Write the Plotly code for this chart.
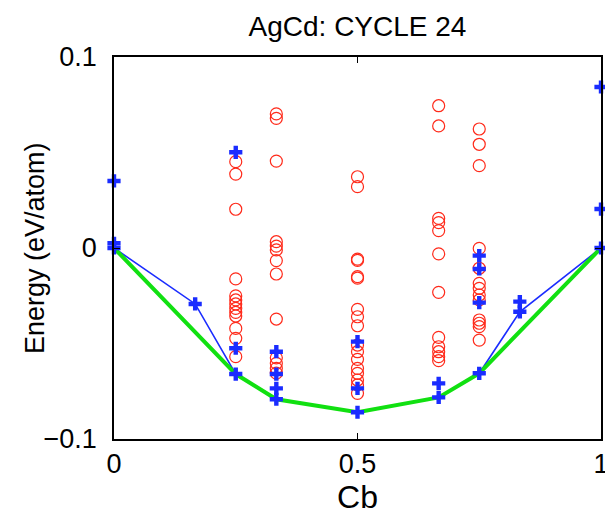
import plotly.graph_objects as go

# ---- data ----
comp_025 = 0.25
comp_033 = 1 / 3
comp_050 = 0.5
comp_067 = 2 / 3
comp_075 = 0.75

red_025 = [0.0452, 0.0387, 0.0203, -0.0162, -0.0251, -0.0272, -0.0293, -0.0316,
           -0.0337, -0.0356, -0.0421, -0.0473, -0.0569]
red_033 = [0.0702, 0.0679, 0.0455, 0.0033, 0.0010, -0.0010, -0.0066, -0.0136,
           -0.0372, -0.0575, -0.0604, -0.0630, -0.0655]
red_050 = [0.0373, 0.0321, -0.0058, -0.0065, -0.0150, -0.0158, -0.0321, -0.0360,
           -0.0407, -0.0508, -0.0543, -0.0583, -0.0630, -0.0656, -0.0691, -0.0717, -0.0761]
red_067 = [0.0745, 0.0639, 0.0155, 0.0133, 0.0091, -0.0031, -0.0232, -0.0468,
           -0.0517, -0.0543, -0.0569, -0.0590]
red_075 = [0.0623, 0.0543, 0.0431, -0.0002, -0.0106, -0.0185, -0.0211, -0.0246,
           -0.0272, -0.0377, -0.0394, -0.0412, -0.0482]

blue_comps = [0.0, 1 / 6, 0.25, 1 / 3, 0.5, 2 / 3, 0.75, 5 / 6, 1.0]
blue_vals = [
    [0.0351, 0.0025, 0.0],
    [-0.0293],
    [0.0501, -0.0525, -0.0660],
    [-0.0543, -0.0660, -0.0735, -0.0792],
    [-0.0490, -0.0735, -0.0860],
    [-0.0709, -0.0782],
    [-0.0040, -0.0110, -0.0286, -0.0656],
    [-0.0281, -0.0334],
    [0.0843, 0.0204, 0.0],
]

ground_x = [0.0, 1 / 6, 0.25, 1 / 3, 0.5, 2 / 3, 0.75, 5 / 6, 1.0]
ground_y = [0.0, -0.0293, -0.0660, -0.0792, -0.0860, -0.0782, -0.0656, -0.0334, 0.0]

hull_x = [0.0, 0.25, 1 / 3, 0.5, 2 / 3, 0.75, 1.0]
hull_y = [0.0, -0.0660, -0.0792, -0.0860, -0.0782, -0.0656, 0.0]

x_ticks = [0, 0.5, 1]
x_ticktext = ["0", "0.5", "1"]
y_ticks = [-0.1, 0, 0.1]
y_ticktext = ["\u22120.1", "0", "0.1"]

# ---- build ----
red_x, red_y = [], []
for c, vals in [(comp_025, red_025), (comp_033, red_033), (comp_050, red_050),
                (comp_067, red_067), (comp_075, red_075)]:
    red_x += [c] * len(vals)
    red_y += vals

bx, by = [], []
for c, vals in zip(blue_comps, blue_vals):
    bx += [c] * len(vals)
    by += vals

FONT = "Liberation Sans, Arial, Helvetica, sans-serif"
W, H = 605, 516
L, R, T, B = 114, 4, 57, 77
plot_w = W - L - R

fig = go.Figure()
fig.add_trace(go.Scatter(x=red_x, y=red_y, mode="markers", cliponaxis=False,
                         marker=dict(symbol="circle-open", size=12, color="#ff2a1a",
                                     line=dict(width=1.2, color="#ff2a1a")),
                         showlegend=False))
fig.add_trace(go.Scatter(x=ground_x, y=ground_y, mode="lines", cliponaxis=False,
                         line=dict(color="#1a2cff", width=1.6), showlegend=False))
fig.add_trace(go.Scatter(x=hull_x, y=hull_y, mode="lines", cliponaxis=False,
                         line=dict(color="#11e011", width=4), showlegend=False))
fig.add_trace(go.Scatter(x=bx, y=by, mode="markers", cliponaxis=False,
                         marker=dict(symbol="cross", size=11, color="#1a2cff",
                                     line=dict(width=0)),
                         showlegend=False))

fig.update_layout(
    width=W, height=H,
    margin=dict(l=L, r=R, t=T, b=B, autoexpand=False),
    paper_bgcolor="white", plot_bgcolor="white",
    font=dict(family=FONT, size=27, color="black"),
    title=dict(text="AgCd: CYCLE 24", x=(L + plot_w / 2) / W, xanchor="center",
               y=1 - 26 / H, yanchor="middle", font=dict(size=28)),
    annotations=[dict(text="Energy (eV/atom)", xref="paper", yref="paper",
                      x=-(L - 35) / plot_w, y=0.5, xanchor="center", yanchor="middle",
                      textangle=-90, showarrow=False, font=dict(size=27))],
)
fig.update_xaxes(range=[0, 1], tickvals=x_ticks, ticktext=x_ticktext,
                 automargin=False, ticklabeloverflow="allow",
                 showgrid=False, zeroline=False, showline=True, mirror="ticks",
                 linecolor="black", linewidth=1.5, ticks="inside", ticklen=6,
                 tickcolor="black", tickwidth=1, ticklabelstandoff=0,
                 title=dict(text="Cb", standoff=7))
fig.update_yaxes(range=[-0.1, 0.1], tickvals=y_ticks, ticktext=y_ticktext,
                 automargin=False, ticklabeloverflow="allow",
                 showgrid=False, zeroline=False, showline=True, mirror="ticks",
                 linecolor="black", linewidth=1.5, ticks="inside", ticklen=6,
                 tickcolor="black", tickwidth=1, ticklabelstandoff=10)

fig.write_html("out.html", config={"displayModeBar": False},
               post_script="document.body.style.margin='0';"
                           "document.body.style.overflow='hidden';")
